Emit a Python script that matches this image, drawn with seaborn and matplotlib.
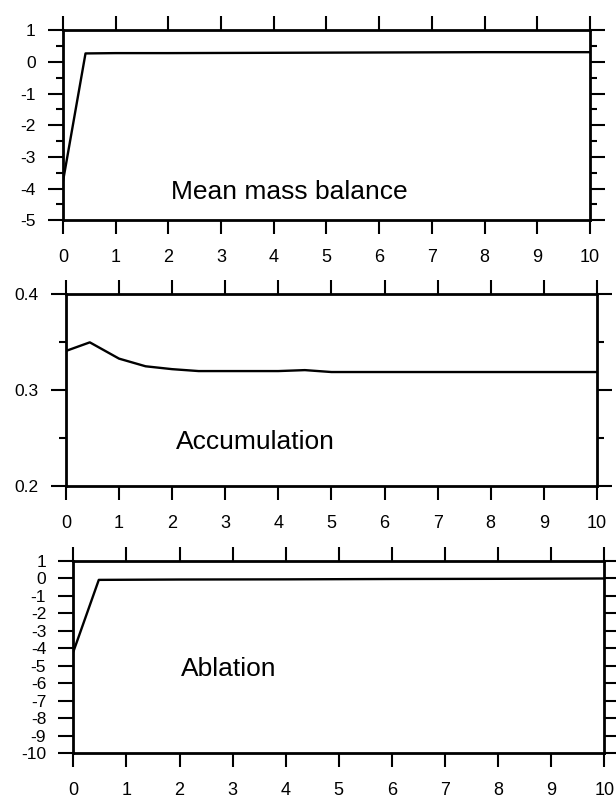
import numpy as np
import pandas as pd
import matplotlib
matplotlib.use("Agg")
import matplotlib.pyplot as plt
from matplotlib.ticker import MultipleLocator
import seaborn as sns

# ---- data ----
years = list(range(0, 11))
mb_x = [0, 0.43, 1, 2, 4, 6, 8, 10]
mb_y = [-3.8, 0.27, 0.28, 0.28, 0.29, 0.30, 0.31, 0.31]

acc_x = [0, 0.45, 1.0, 1.5, 2.0, 2.5, 3.0, 4.0, 4.5, 5.0, 6.0, 7.0, 8.0, 9.0, 10.0]
acc_y = [0.341, 0.350, 0.333, 0.325, 0.322, 0.320, 0.320, 0.320, 0.321, 0.319,
         0.319, 0.319, 0.319, 0.319, 0.319]

abl_x = [0, 0.48, 2, 4, 6, 8, 10]
abl_y = [-4.2, -0.08, -0.06, -0.05, -0.03, -0.02, 0.0]

titles = ["Mean mass balance", "Accumulation", "Ablation"]
mb_yticks = [1, 0, -1, -2, -3, -4, -5]
acc_yticks = [0.4, 0.3, 0.2]
abl_yticks = [1, 0, -1, -2, -3, -4, -5, -6, -7, -8, -9, -10]

sns.set_style("ticks")
plt.rcParams['font.family'] = ['Liberation Sans', 'DejaVu Sans']
plt.rcParams['axes.unicode_minus'] = False
plt.rcParams['text.color'] = 'black'
plt.rcParams['xtick.color'] = 'black'
plt.rcParams['ytick.color'] = 'black'
plt.rcParams['axes.edgecolor'] = 'black'

fig = plt.figure(figsize=(6.16, 7.98), dpi=100)

boxes = [
    [0.102, 0.724, 0.856, 0.238],
    [0.107, 0.391, 0.862, 0.240],
    [0.119, 0.056, 0.862, 0.241],
]

panels = [
    (mb_x, mb_y, (-5, 1), mb_yticks, 0.5, "{:g}", (2.05, -4.1)),
    (acc_x, acc_y, (0.2, 0.4), acc_yticks, 0.05, "{:.1f}", (2.07, 0.246)),
    (abl_x, abl_y, (-10, 1), abl_yticks, None, "{:g}", (2.02, -5.15)),
]

for box, (xs, ys, ylim, yt, minor, fmt, tpos), title in zip(boxes, panels, titles):
    ax = fig.add_axes(box)
    df = pd.DataFrame({"x": xs, "y": ys})
    sns.lineplot(data=df, x="x", y="y", ax=ax, color="black", linewidth=1.7)
    ax.set_xlim(0, 10)
    ax.set_ylim(*ylim)
    ax.set_xticks(years)
    ax.set_xticklabels([str(v) for v in years])
    ax.set_yticks(yt)
    ax.set_yticklabels([fmt.format(v) for v in yt])
    if minor is not None:
        ax.yaxis.set_minor_locator(MultipleLocator(minor))
    ax.set_xlabel("")
    ax.set_ylabel("")
    for s in ax.spines.values():
        s.set_visible(True)
        s.set_linewidth(2.0)
        s.set_color("black")
    ax.tick_params(axis="x", which="major", direction="out", top=True, bottom=True,
                   labeltop=False, length=10, width=1.5, pad=11, labelsize=13,
                   colors="black")
    ax.tick_params(axis="y", which="major", direction="out", left=True, right=True,
                   labelright=False, length=10.5, width=1.5, pad=9, labelsize=12.5,
                   colors="black")
    ax.tick_params(axis="y", which="minor", direction="out", left=True, right=True,
                   length=5, width=1.5, colors="black")
    ax.text(tpos[0], tpos[1], title, fontsize=19, ha="left", va="center",
            color="black")

fig.savefig("out.png", dpi=100)
